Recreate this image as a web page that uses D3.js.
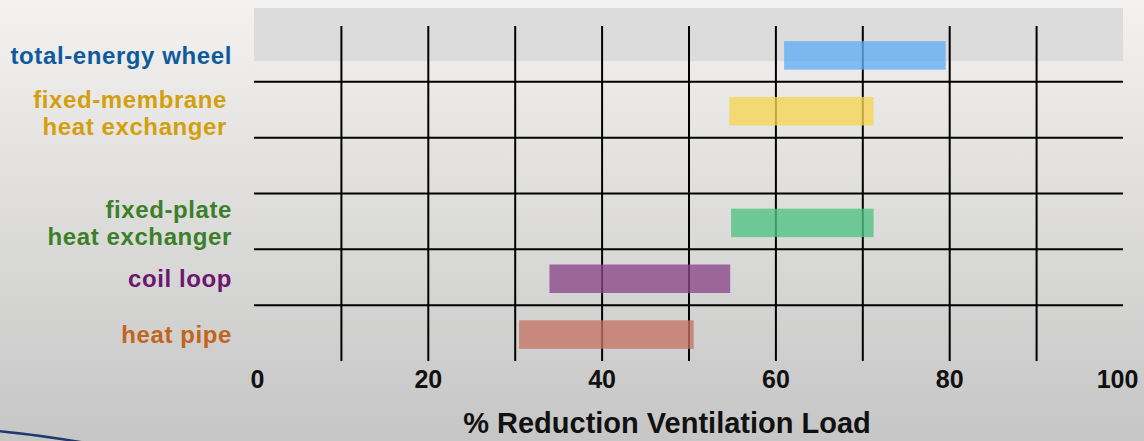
<!DOCTYPE html>
<html>
<head>
<meta charset="utf-8">
<script src="https://cdn.jsdelivr.net/npm/d3@7"></script>
<style>
  html, body { margin: 0; padding: 0; }
  body { width: 1144px; height: 441px; overflow: hidden; }
  svg { display: block; }
  text { font-family: "Liberation Sans", Arial, sans-serif; font-weight: bold; }
</style>
</head>
<body>
<svg id="chart" width="1144" height="441"></svg>
<script>
// ---- data ----
const rows = ["total-energy wheel", "fixed-membrane heat exchanger", "(gap)", "fixed-plate heat exchanger", "coil loop", "heat pipe"];
const labelLines = [["total-energy wheel"], ["fixed-membrane", "heat exchanger"], [], ["fixed-plate", "heat exchanger"], ["coil loop"], ["heat pipe"]];
const rangeStart = [61, 54.7, null, 54.9, 34.0, 30.5];
const rangeEnd   = [79.6, 71.3, null, 71.3, 54.8, 50.6];
const barColors   = ["#62aef5", "#f5d552", null, "#50c183", "#8b4789", "#c57464"];
const labelColors = ["#0f5a9c", "#d39f0d", null, "#3b7f29", "#6c166e", "#c3641b"];
const tickValues = [0, 20, 40, 60, 80, 100];
const gridValues = [10, 20, 30, 40, 50, 60, 70, 80, 90];
const axisTitle = "% Reduction Ventilation Load";

const svg = d3.select("#chart");
const W = 1144, H = 441;

// background gradient
const defs = svg.append("defs");
const grad = defs.append("linearGradient").attr("id", "bg").attr("x1", 0).attr("y1", 0).attr("x2", 0).attr("y2", 1);
grad.append("stop").attr("offset", "0%").attr("stop-color", "#f3f2f0");
grad.append("stop").attr("offset", "100%").attr("stop-color", "#c6c6c6");
svg.append("rect").attr("width", W).attr("height", H).attr("fill", "url(#bg)");

// swoosh bottom-left
svg.append("path")
  .attr("d", "M-2,431 Q40,435 86,443")
  .attr("fill", "none").attr("stroke", "#1f3a6b").attr("stroke-width", 2.5);

// scales
const x = d3.scaleLinear().domain([0, 100]).range([254, 1123]);
const y = d3.scaleBand().domain(rows).range([26, 361]).padding(0);
const step = y.step();
const barH = 28.5;

// top highlight band
svg.append("rect")
  .attr("x", x(0)).attr("width", x(100) - x(0))
  .attr("y", 8).attr("height", 53)
  .attr("fill", "#dcdcdc");

// vertical gridlines
const gx = svg.append("g").attr("transform", `translate(0,${y.range()[1]})`)
  .call(d3.axisBottom(x).tickValues(gridValues).tickSize(-(y.range()[1] - y.range()[0])).tickFormat(""));
gx.select(".domain").remove();
gx.selectAll(".tick line").attr("stroke", "#000").attr("stroke-width", 2);

// horizontal lines between rows
svg.append("g").selectAll("line")
  .data(rows.slice(1))
  .join("line")
  .attr("x1", x(0)).attr("x2", x(100))
  .attr("y1", d => y(d)).attr("y2", d => y(d))
  .attr("stroke", "#000").attr("stroke-width", 2);

// bars
const barData = rows.map((r, i) => ({ r, s: rangeStart[i], e: rangeEnd[i], c: barColors[i] })).filter(d => d.s != null);
svg.append("g").selectAll("rect")
  .data(barData)
  .join("rect")
  .attr("x", d => x(d.s))
  .attr("width", d => x(d.e) - x(d.s))
  .attr("y", d => y(d.r) + step / 2 - barH / 2 + 1.5)
  .attr("height", barH)
  .attr("fill", d => d.c)
  .attr("fill-opacity", 0.78);

// category labels
const lblData = rows.map((r, i) => ({ r, i, lines: labelLines[i], c: labelColors[i] })).filter(d => d.lines.length);
const lblG = svg.append("g");
lblData.forEach(d => {
  const n = d.lines.length;
  const cx = d.i === 1 ? 227 : 232;
  const cy = y(d.r) + step / 2 + (d.i === 1 ? 3 : 1);
  d.lines.forEach((ln, k) => {
    lblG.append("text")
      .attr("x", cx)
      .attr("y", cy + 9 + (k - (n - 1) / 2) * 27)
      .attr("text-anchor", "end")
      .attr("font-size", 24)
      .attr("letter-spacing", 0.6)
      .attr("fill", d.c)
      .text(ln);
  });
});

// x tick labels
const ax = svg.append("g").attr("transform", `translate(0,388)`)
  .call(d3.axisBottom(x).tickValues(tickValues).tickSize(0).tickPadding(0).tickFormat(d3.format("d")));
ax.select(".domain").remove();
ax.selectAll(".tick text")
  .attr("dy", 0).attr("y", 0)
  .attr("x", d => d === 0 ? 3 : (d === 100 ? -6 : 0))
  .attr("font-size", 25)
  .attr("font-family", "Liberation Sans, Arial, sans-serif")
  .attr("font-weight", "bold")
  .attr("fill", "#111");

// axis title
svg.append("text")
  .attr("x", 667).attr("y", 433)
  .attr("text-anchor", "middle")
  .attr("font-size", 29)
  .attr("fill", "#111")
  .text(axisTitle);
</script>
</body>
</html>
